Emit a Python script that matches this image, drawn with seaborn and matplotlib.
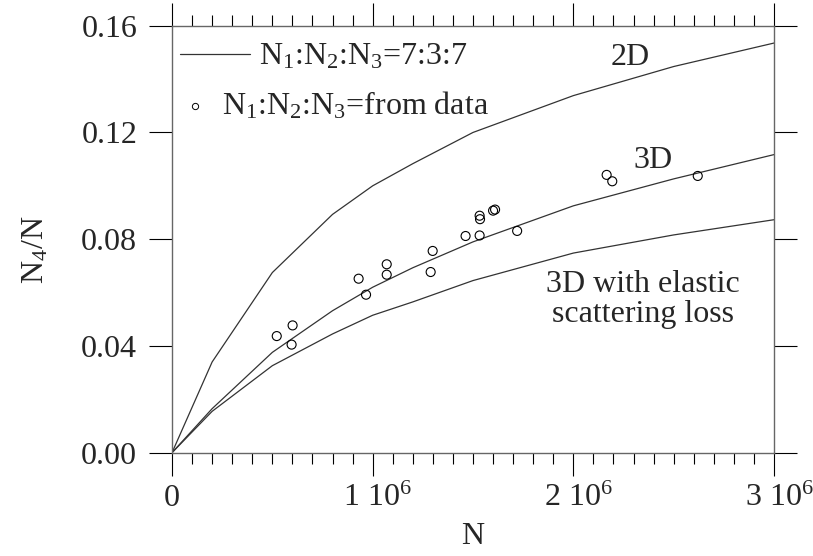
import numpy as np
import pandas as pd
import matplotlib
matplotlib.use("Agg")
import matplotlib.pyplot as plt
import matplotlib.transforms as mtrans
from matplotlib.ticker import MultipleLocator
import seaborn as sns

# ---------------- data ----------------
curve_N = [0, 2e5, 5e5, 8e5, 1e6, 1.2e6, 1.5e6, 2e6, 2.5e6, 3e6]
ratio_2d = [0, 0.0340, 0.0675, 0.0893, 0.1000, 0.1083, 0.1200, 0.1338, 0.1447, 0.1535]
ratio_3d = [0, 0.0165, 0.0376, 0.0532, 0.0620, 0.0693, 0.0790, 0.0925, 0.1026, 0.1117]
ratio_3d_loss = [0, 0.0155, 0.0326, 0.0445, 0.0515, 0.0565, 0.0645, 0.0748, 0.0816, 0.0873]

data_N = [5.22e5, 6.01e5, 5.96e5, 9.3e5, 9.67e5, 1.07e6, 1.07e6, 1.289e6, 1.299e6,
          1.463e6, 1.533e6, 1.535e6, 1.533e6, 1.60e6, 1.61e6, 1.72e6, 2.166e6,
          2.194e6, 2.62e6]
data_ratio = [0.0437, 0.0477, 0.0405, 0.0652, 0.0592, 0.0706, 0.0667, 0.0677, 0.0756,
              0.0812, 0.0888, 0.0875, 0.0814, 0.0907, 0.0911, 0.0831, 0.1041,
              0.1017, 0.1037]

xtick_values = [0, 1e6, 2e6, 3e6]
xtick_labels = ["0", "1 10$^6$", "2 10$^6$", "3 10$^6$"]
ytick_values = [0.00, 0.04, 0.08, 0.12, 0.16]
ytick_labels = ["0.00", "0.04", "0.08", "0.12", "0.16"]

legend_line_label = "N$_1$:N$_2$:N$_3$=7:3:7"
legend_point_label = "N$_1$:N$_2$:N$_3$=from data"
label_2d = "2D"
label_3d = "3D"
label_loss = ["3D with elastic", "scattering loss"]
x_label = "N"
y_label = "N$_4$/N"

# ---------------- style ----------------
sns.set_theme(style="ticks")
plt.rcParams["font.family"] = ["Liberation Serif", "DejaVu Serif"]
plt.rcParams["mathtext.fontset"] = "custom"
plt.rcParams["mathtext.rm"] = "Liberation Serif"
plt.rcParams["mathtext.it"] = "Liberation Serif:italic"
plt.rcParams["mathtext.bf"] = "Liberation Serif:bold"

FS = 23
line_color = "#333333"
spine_color = "#666666"

curves = pd.DataFrame({
    "N": curve_N * 3,
    "ratio": ratio_2d + ratio_3d + ratio_3d_loss,
    "model": ["2D"] * len(curve_N) + ["3D"] * len(curve_N) + ["3D loss"] * len(curve_N),
})
points = pd.DataFrame({"N": data_N, "ratio": data_ratio})

fig = plt.figure(figsize=(8.13, 5.56), dpi=100)
ax = fig.add_axes([172 / 813, 1 - 452.7 / 556, 602 / 813, (452.7 - 25.7) / 556])

sns.lineplot(data=curves, x="N", y="ratio", units="model", estimator=None,
             color=line_color, linewidth=0.9, ax=ax, legend=False)
sns.scatterplot(data=points, x="N", y="ratio", marker="o", s=42,
                facecolor="none", edgecolor="black", linewidth=0.8, ax=ax,
                legend=False, zorder=3)

ax.set_xlim(0, 3e6)
ax.set_ylim(0, 0.16)
ax.set_xticks(xtick_values, xtick_labels)
ax.set_yticks(ytick_values, ytick_labels)
ax.xaxis.set_minor_locator(MultipleLocator(1e5))

for s in ax.spines.values():
    s.set_visible(True)
    s.set_color(spine_color)
    s.set_linewidth(1.0)

ax.tick_params(axis="both", which="major", direction="out", length=16.5, width=0.8,
               color="black", labelsize=FS, top=True, right=True,
               labeltop=False, labelright=False)
ax.tick_params(axis="x", which="minor", direction="out", length=7.9, width=0.8,
               color="black", top=True, bottom=True)
ax.tick_params(axis="y", which="major", pad=8.6)
ax.tick_params(axis="x", which="major", pad=22.0)
shift = mtrans.ScaledTranslation(5 / 100, 0, fig.dpi_scale_trans)
for lab in ax.get_xticklabels():
    lab.set_va("baseline")
    if "$" in lab.get_text():
        lab.set_transform(lab.get_transform() + shift)

ax.set_xlabel(x_label, fontsize=FS)
ax.set_ylabel(y_label, fontsize=FS)
ax.xaxis.set_label_coords(0.5, (452.7 - 522) / 427)
ax.yaxis.set_label_coords((50 - 172) / 602, (452.7 - 250) / 427)

# legend drawn by hand to mimic reference layout
ax.plot([0.0138, 0.130], [0.934, 0.934], transform=ax.transAxes,
        color=line_color, linewidth=0.9, clip_on=False)
ax.text(0.145, 0.908, legend_line_label, transform=ax.transAxes,
        fontsize=FS, va="baseline", ha="left")
ax.plot([0.039], [0.812], transform=ax.transAxes, marker="o", markersize=4.5,
        markerfacecolor="none", markeredgecolor="black", markeredgewidth=0.7,
        linestyle="none")
ax.text(0.083, 0.791, legend_point_label, transform=ax.transAxes,
        fontsize=FS, va="baseline", ha="left")

ax.text(0.761, 0.908, label_2d, transform=ax.transAxes, fontsize=FS,
        ha="center", va="baseline")
ax.text(0.799, 0.667, label_3d, transform=ax.transAxes, fontsize=FS,
        ha="center", va="baseline")
ax.text(0.782, 0.376, label_loss[0], transform=ax.transAxes, fontsize=FS,
        ha="center", va="baseline")
ax.text(0.782, 0.307, label_loss[1], transform=ax.transAxes, fontsize=FS,
        ha="center", va="baseline")

fig.savefig("out.png", dpi=100)
